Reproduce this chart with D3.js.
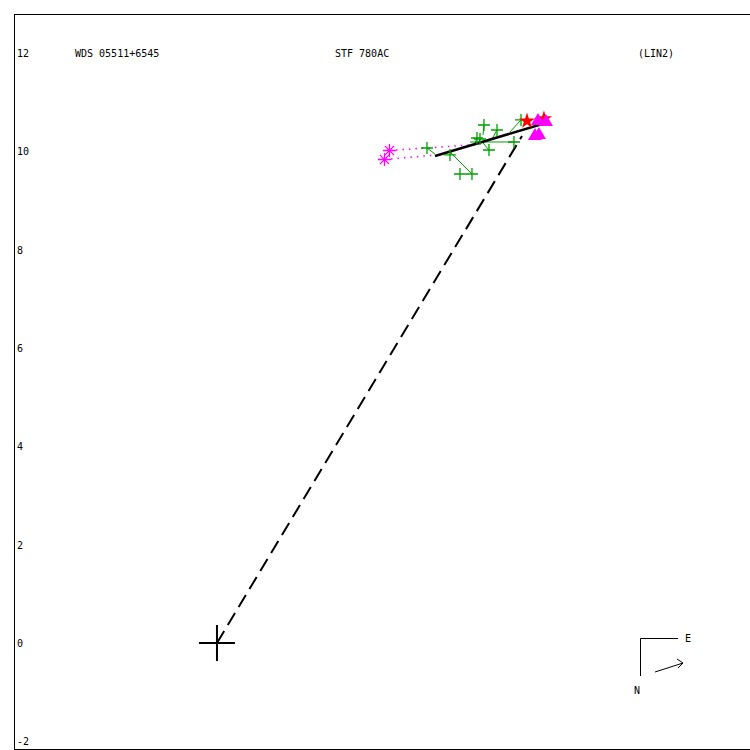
<!DOCTYPE html>
<html><head><meta charset="utf-8">
<script src="https://cdn.jsdelivr.net/npm/d3@7"></script>
<style>body{margin:0;background:#fff}svg{display:block}text{font-family:"DejaVu Sans Mono",monospace;font-size:10px;fill:#000}</style>
</head><body>
<script>
// ---- data (arcsec) ----
const yTicks = [-2, 0, 2, 4, 6, 8, 10, 12];
const titleLeft = "WDS 05511+6545";
const titleMid = "STF 780AC";
const titleRight = "(LIN2)";
// linear ephemeris (LIN2) fit line endpoints
const fitLine = [[4.434, 9.905], [6.752, 10.596]];
// dashed line from primary to last position
const radiusLine = [[0, 0], [6.203, 10.311]];
// micrometer observations (green +): observed x,y and predicted x,y
const plusObs  = [[4.271,10.067],[4.739,9.925],[4.942,9.538],[5.186,9.538],[5.288,10.270],[5.349,10.250],[5.430,10.535],[5.532,10.026],[5.695,10.433],[6.040,10.189],[6.183,10.637]];
const plusPred = [[4.434,9.945],[4.779,10.026],[4.942,9.538],[4.739,9.986],[5.227,10.108],[5.308,10.128],[5.410,10.331],[5.410,10.169],[5.593,10.250],[5.145,10.189],[5.959,10.392]];
// early observations (magenta asterisks)
const astObs  = [[3.508,10.016],[3.407,9.833]];
const astPred = [[5.145,10.128],[4.454,9.925]];
// red stars
const starObs = [[6.305,10.616],[6.650,10.657]];
// magenta triangles
const triObs = [[6.528,10.616],[6.691,10.596],[6.467,10.311],[6.548,10.331]];

const W = 750, H = 750;
const svg = d3.select("body").append("svg").attr("width", W).attr("height", H);
const x = d3.scaleLinear().domain([-4.128, 10.881]).range([14, 752]);
const y = d3.scaleLinear().domain([-2.156, 12.792]).range([749, 14]);

// frame
svg.append("rect").attr("x", 14.5).attr("y", 14.5).attr("width", 740).attr("height", 735)
  .attr("fill", "none").attr("stroke", "#000").attr("stroke-width", 1);

// y tick labels
svg.selectAll("text.yt").data(yTicks).enter().append("text").attr("class","yt")
  .attr("x", 17).attr("y", d => y(d) + 4).text(d => d);

svg.append("text").attr("x", 75).attr("y", y(12) + 4).text(titleLeft);
svg.append("text").attr("x", 335).attr("y", y(12) + 4).text(titleMid);
svg.append("text").attr("x", 638).attr("y", y(12) + 4).text(titleRight);

const line = d3.line().x(d => x(d[0])).y(d => y(d[1]));

// dashed radius line
svg.append("path").attr("d", line(radiusLine)).attr("fill","none").attr("stroke","#000")
  .attr("stroke-width", 2).attr("stroke-dasharray", "14,7");

// O-C lines
svg.selectAll("path.ocp").data(plusObs).enter().append("path").attr("class","ocp")
  .attr("d", (d,i) => line([d, plusPred[i]])).attr("stroke", "#00a000").attr("stroke-width", 1).attr("fill","none");
svg.selectAll("path.oca").data(astObs).enter().append("path").attr("class","oca")
  .attr("d", (d,i) => line([d, astPred[i]])).attr("stroke", "#ff00ff").attr("stroke-width", 1.5)
  .attr("stroke-dasharray", "1.5,5").attr("fill","none");

// fit line
svg.append("path").attr("d", line(fitLine)).attr("fill","none").attr("stroke","#000").attr("stroke-width", 2.5);

// green plus markers
const plusG = svg.append("g").attr("stroke", "#00a000").attr("stroke-width", 1.3);
plusObs.forEach(d => {
  const cx = x(d[0]), cy = y(d[1]);
  plusG.append("path").attr("d", `M${cx-6},${cy}H${cx+6}M${cx},${cy-6}V${cy+6}`);
});

// magenta asterisks
const astG = svg.append("g").attr("stroke", "#ff00ff").attr("stroke-width", 1.3);
astObs.forEach(d => {
  const cx = x(d[0]), cy = y(d[1]), r = 6.5, q = 4.6;
  astG.append("path").attr("d",
    `M${cx-r},${cy}H${cx+r}M${cx},${cy-r}V${cy+r}M${cx-q},${cy-q}L${cx+q},${cy+q}M${cx-q},${cy+q}L${cx+q},${cy-q}`);
});

// red stars
const starSym = d3.symbol().type(d3.symbolStar).size(80);
svg.selectAll("path.star").data(starObs).enter().append("path").attr("class","star")
  .attr("transform", d => `translate(${x(d[0])},${y(d[1])})`).attr("d", starSym).attr("fill", "#ff0000");

// magenta triangles
const triSym = d3.symbol().type(d3.symbolTriangle).size(85);
svg.selectAll("path.tri").data(triObs).enter().append("path").attr("class","tri")
  .attr("transform", d => `translate(${x(d[0])},${y(d[1])})`).attr("d", triSym).attr("fill", "#ff00ff");

// primary cross
const ox = x(0), oy = y(0);
svg.append("path").attr("d", `M${ox-18},${oy}H${ox+18}M${ox},${oy-18}V${oy+18}`)
  .attr("stroke", "#000").attr("stroke-width", 2);

// compass
const cg = svg.append("g").attr("stroke", "#000").attr("stroke-width", 1).attr("fill","none");
cg.append("path").attr("d", "M678,638.5H640.5V676");
cg.append("path").attr("d", "M655,672L683,663M677,659L683,663L678,668");
svg.append("text").attr("x", 685).attr("y", 642).text("E");
svg.append("text").attr("x", 634).attr("y", 694).text("N");
</script>
</body></html>
